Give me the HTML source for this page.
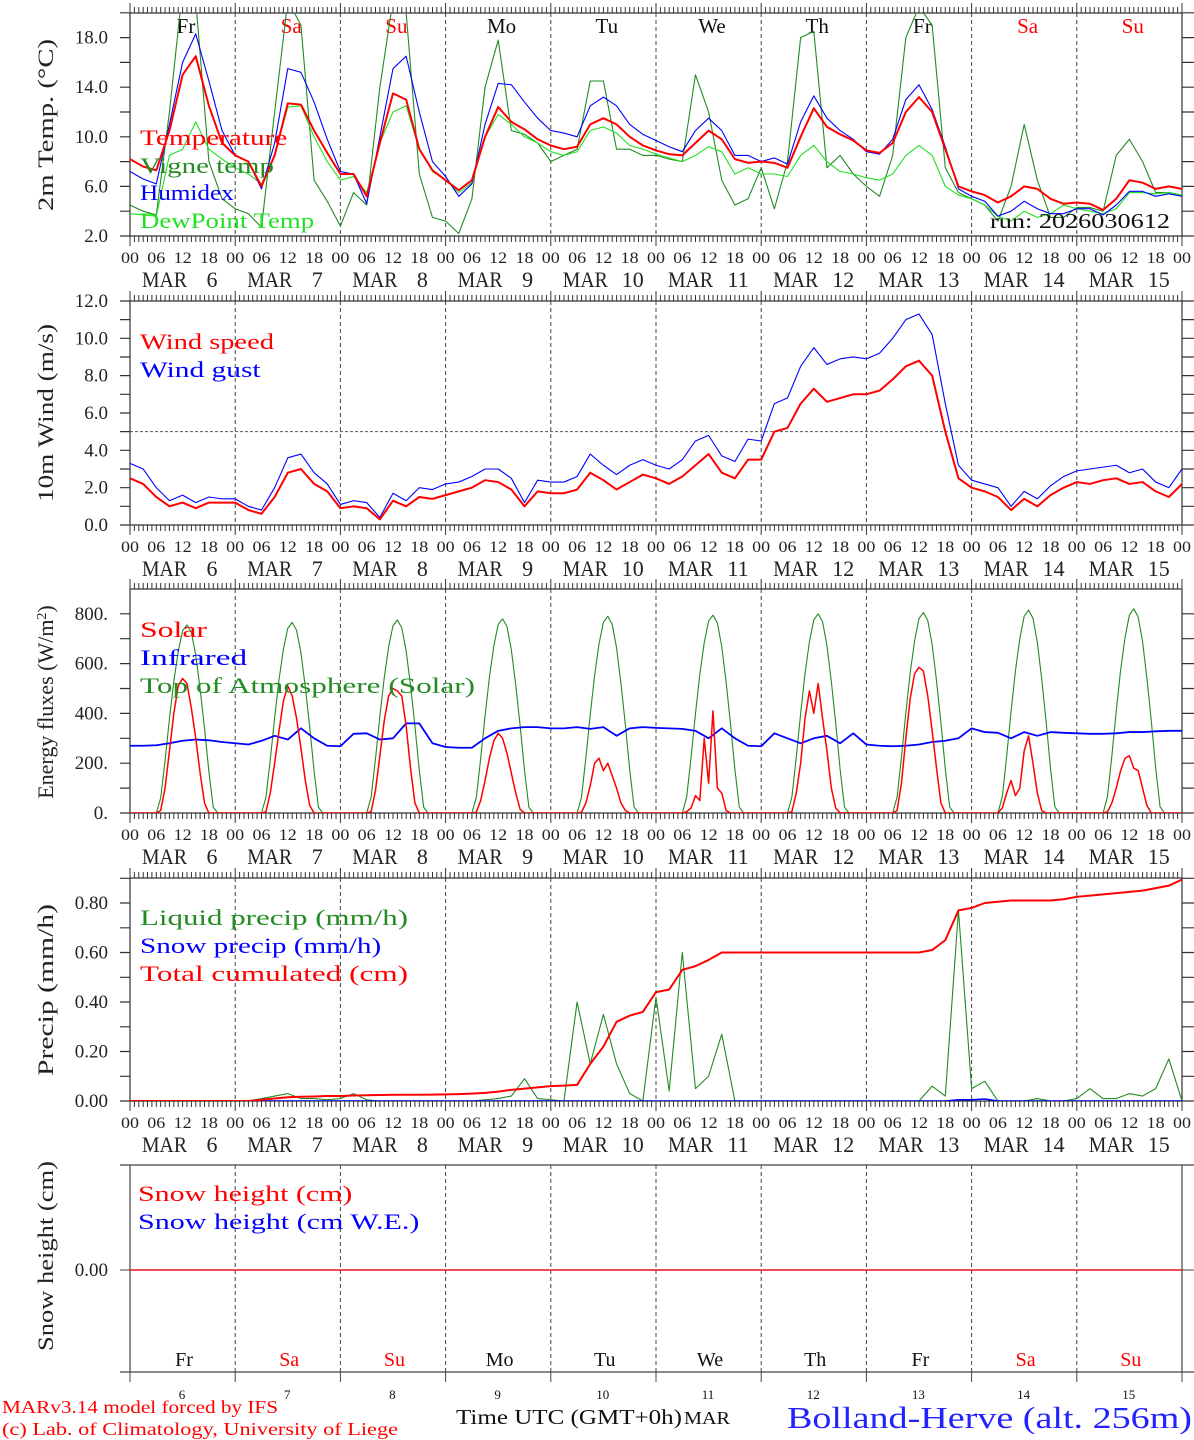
<!DOCTYPE html>
<html><head><meta charset="utf-8"><title>MAR forecast Bolland-Herve</title>
<style>
html,body{margin:0;padding:0;background:#fff;}
svg{display:block;font-family:"Liberation Serif",serif;}
</style></head>
<body>
<svg id="chart" width="1194" height="1440" viewBox="0 0 1194 1440" xmlns="http://www.w3.org/2000/svg">
<defs>
<clipPath id="c1"><rect x="130" y="13" width="1052" height="223"/></clipPath>
<clipPath id="c2"><rect x="130" y="301" width="1052" height="224"/></clipPath>
<clipPath id="c3"><rect x="130" y="589" width="1052" height="224"/></clipPath>
<clipPath id="c4"><rect x="130" y="878" width="1052" height="223"/></clipPath>
</defs>
<g id="root"></g>
</svg>
<script>
// ---------- DATA (3-hourly, Mar 6 00UTC .. Mar 16 00UTC, 81 points) ----------
const days = ["6","7","8","9","10","11","12","13","14","15"];
const dayNames = ["Fr","Sa","Su","Mo","Tu","We","Th","Fr","Sa","Su"];
const hourLabels = ["00","06","12","18"];
const tempTicks = ["2.0","6.0","10.0","14.0","18.0"];
const windTicks = ["0.0","2.0","4.0","6.0","8.0","10.0","12.0"];
const fluxTicks = ["0.","200.","400.","600.","800."];
const precTicks = ["0.00","0.20","0.40","0.60","0.80"];

const temperature = [8.2,7.6,7.3,10.5,15.0,16.5,12.5,9.5, 8.5,8.0,6.0,8.5,12.7,12.6,10.5,8.7, 7.0,7.0,5.2,9.5,13.5,13.0,9.0,7.3, 6.5,5.7,6.5,10.0,12.4,11.2,10.6,9.8, 9.3,9.0,9.2,11.0,11.5,11.0,10.0,9.3, 8.9,8.6,8.5,9.5,10.5,9.8,8.2,7.9, 8.0,7.9,7.5,10.0,12.3,10.8,10.2,9.7, 8.9,8.7,9.5,12.0,13.2,12.0,9.0,6.0, 5.6,5.3,4.7,5.2,6.0,5.8,5.0,4.6, 4.7,4.6,4.1,5.0,6.5,6.3,5.8,6.0,5.8];
const vigneTemp = [4.5,4.0,3.7,12,22,21,8,5, 4.2,3.8,2.7,12,21,19,6.5,4.8, 2.8,5.5,4.5,14,21,20,7,3.5, 3.2,2.2,5,14,17.8,10.5,10.2,9.5, 8.0,8.5,9,14.5,14.5,9,9.0,8.5, 8.5,8.2,8.0,15.0,12,6.5,4.5,5.0, 7.5,4.2,8.0,18,18.5,7.5,8.5,7.0, 6.0,5.2,8.5,18,20.5,19,7.5,5.5, 5.0,4.5,3.2,6.0,11,6.5,3.5,3.5, 4.3,4.3,4.0,8.5,9.8,8.0,5.5,5.5,5.3];
const humidex = [7.2,6.6,6.2,11,16,18.3,14.5,10.5, 8.5,8.0,5.8,9.5,15.5,15.2,12.8,9.8, 7.2,7.0,4.6,10,15.5,16.5,12,8, 6.8,5.2,6.2,11,14.3,14.2,12.8,11.5, 10.5,10.3,10.0,12.5,13.2,12.5,11,10.2, 9.7,9.2,8.8,10.5,11.5,10.5,8.5,8.5, 8.0,8.3,7.8,11.2,13.3,11.5,10.5,9.8, 8.8,8.6,9.8,13,14.2,12.2,9.2,5.8, 5.2,4.8,3.6,4.0,4.8,4.2,3.8,3.8, 4.2,4.2,3.7,4.5,5.6,5.6,5.2,5.4,5.2];
const dewPoint = [3.8,3.7,3.6,8.5,9.0,11.2,9,8.2, 7.5,7.0,6.2,8.5,12.4,12.5,10,8.0, 6.5,6.8,5.5,9.5,12,12.5,9,7.2, 6.5,5.5,6.3,10,11.8,11,10,9.5, 8.8,8.5,8.8,10.5,10.8,10.3,9.3,9.0, 8.6,8.3,8.0,8.5,9.2,8.8,7.0,7.5, 7.0,7.0,6.8,8.5,9.3,8.0,7.2,7.0, 6.7,6.5,7.0,8.5,9.3,8.5,6.0,5.3, 5.0,4.5,3.6,3.2,4.0,3.5,3.8,4.5, 4.2,4.0,3.8,4.2,5.5,5.5,5.4,5.5,5.3];

const windSpeed = [2.5,2.2,1.5,1.0,1.2,0.9,1.2,1.2, 1.2,0.8,0.6,1.5,2.8,3.0,2.2,1.8, 0.9,1.0,0.9,0.3,1.3,1.0,1.5,1.4, 1.6,1.8,2.0,2.4,2.3,1.9,1.0,1.8, 1.7,1.7,1.9,2.8,2.4,1.9,2.3,2.7, 2.5,2.2,2.6,3.2,3.8,2.8,2.5,3.5, 3.5,5.0,5.2,6.5,7.3,6.6,6.8,7.0, 7.0,7.2,7.8,8.5,8.8,8.0,5.0,2.5, 2.0,1.8,1.5,0.8,1.4,1.0,1.6,2.0, 2.3,2.2,2.4,2.5,2.2,2.3,1.8,1.5,2.2];
const windGust = [3.3,3.0,2.0,1.3,1.6,1.2,1.5,1.4, 1.4,1.0,0.8,2.0,3.6,3.8,2.8,2.2, 1.1,1.3,1.2,0.4,1.7,1.3,2.0,1.9, 2.2,2.3,2.6,3.0,3.0,2.5,1.2,2.4, 2.3,2.3,2.6,3.8,3.2,2.7,3.2,3.5, 3.2,3.0,3.5,4.5,4.8,3.7,3.4,4.6, 4.5,6.5,6.8,8.5,9.5,8.6,8.9,9.0, 8.9,9.2,10.0,11.0,11.3,10.2,6.5,3.2, 2.4,2.2,2.0,1.0,1.8,1.4,2.1,2.6, 2.9,3.0,3.1,3.2,2.8,3.0,2.3,2.0,3.0];

// hourly daylight values (06..19 UTC) per day
const toaDay6  = [0,60,211,378,529,649,732,755,725,634,498,340,166,23];
const toaDay7  = [0,61,214,383,536,658,742,765,734,643,505,344,168,23];
const toaDay8  = [0,62,217,388,543,667,752,775,744,651,512,349,171,23];
const toaDay9  = [0,62,218,390,546,671,757,780,749,655,515,351,172,23];
const toaDay10 = [0,63,221,395,553,679,766,790,758,664,521,356,174,24];
const toaDay11 = [0,64,223,398,557,684,771,795,763,668,525,358,175,24];
const toaDay12 = [0,64,224,400,560,688,776,800,768,672,528,360,176,24];
const toaDay13 = [0,64,225,403,564,692,781,805,773,676,531,362,177,24];
const toaDay14 = [0,65,228,408,571,701,791,815,782,685,538,367,179,24];
const toaDay15 = [0,66,230,410,574,705,795,820,787,689,541,369,180,25];
const solarDay6  = [0,10,100,250,400,510,540,520,420,300,160,40,0,0];
const solarDay7  = [0,5,80,200,330,450,510,470,380,260,130,30,0,0];
const solarDay8  = [0,5,90,230,370,470,500,490,470,350,180,40,0,0];
const solarDay9  = [0,3,50,130,220,290,320,300,240,160,80,15,0,0];
const solarDay10 = [0,3,40,110,200,220,170,200,150,100,40,10,0,0];
const solarDay11 = [0,5,20,70,50,300,120,410,100,80,10,0,0,0];
const solarDay12 = [0,5,80,200,380,490,400,520,380,250,100,20,0,0];
const solarDay13 = [0,10,120,300,460,560,585,570,470,330,180,40,0,0];
const solarDay14 = [0,20,80,130,70,100,250,310,200,80,10,0,0,0];
const solarDay15 = [0,5,40,100,170,220,230,180,170,100,30,0,0,0];
const infrared = [270,270,272,280,290,295,292,285, 280,275,290,310,295,340,300,270, 268,318,320,295,300,360,360,280, 265,262,262,300,330,340,345,345, 340,340,345,338,345,310,340,345, 342,340,338,330,300,340,300,270, 268,320,300,280,300,310,280,320, 275,270,268,270,275,285,290,300, 340,325,322,300,325,310,325,322, 320,318,318,320,325,325,328,330,330];

const liquidPrecip = [0,0,0,0,0,0,0,0, 0,0,0.01,0.02,0.03,0.01,0.01,0.005, 0.01,0.03,0.005,0,0,0,0,0, 0,0,0,0.005,0.01,0.02,0.09,0.01, 0.005,0,0.40,0.15,0.35,0.15,0.03,0, 0.42,0.04,0.60,0.05,0.10,0.27,0,0, 0,0,0,0,0,0,0,0, 0,0,0,0,0,0.06,0.02,0.77, 0.05,0.08,0,0,0,0.01,0,0, 0.01,0.05,0.01,0.01,0.03,0.02,0.05,0.17,0];
const snowPrecip = [0,0,0,0,0,0,0,0, 0,0,0,0,0,0,0,0, 0,0,0,0,0,0,0,0, 0,0,0,0,0,0,0,0, 0,0,0,0,0,0,0,0, 0,0,0,0,0,0,0,0, 0,0,0,0,0,0,0,0, 0,0,0,0,0,0,0,0.005, 0.005,0.008,0,0,0,0,0,0, 0,0,0,0,0,0,0,0,0];
const totalCumulated = [0,0,0,0,0,0,0,0, 0,0,0.005,0.01,0.015,0.017,0.018,0.02, 0.02,0.022,0.023,0.024,0.025,0.025,0.025,0.026, 0.027,0.028,0.03,0.033,0.038,0.045,0.05,0.055, 0.06,0.062,0.065,0.15,0.22,0.32,0.345,0.36, 0.44,0.45,0.53,0.545,0.57,0.60,0.60,0.60, 0.60,0.60,0.60,0.60,0.60,0.60,0.60,0.60, 0.60,0.60,0.60,0.60,0.60,0.61,0.65,0.77, 0.78,0.80,0.805,0.81,0.81,0.81,0.81,0.815, 0.825,0.83,0.835,0.84,0.845,0.85,0.86,0.87,0.895];
const snowHeight = [0,0,0,0,0,0,0,0,0,0,0];
const snowHeightWE = [0,0,0,0,0,0,0,0,0,0,0];

// ---------- RENDERING ----------
const NS = "http://www.w3.org/2000/svg";
const root = document.getElementById("root");
const X0 = 130, X1 = 1182, DAYW = (X1 - X0) / 10, HW = DAYW / 24;
const x3h = i => X0 + i * 3 * HW;
const xHour = h => X0 + h * HW;

function mk(tag, parent, attrs) {
  const el = document.createElementNS(NS, tag);
  for (const k in attrs) el.setAttribute(k, attrs[k]);
  parent.appendChild(el);
  return el;
}
function txt(parent, x, y, s, size, fill, anchor, name, len) {
  const el = mk("text", parent, {x: x, y: y, "font-size": size, fill: fill, "text-anchor": anchor});
  if (len) { el.setAttribute("textLength", len); el.setAttribute("lengthAdjust", "spacingAndGlyphs"); }
  el.textContent = s;
  
  
  return el;
}
function series(parent, vals, xf, yf, color, w, name, clip) {
  let d = "";
  vals.forEach((v, i) => { d += (i ? "L" : "M") + xf(i).toFixed(2) + "," + yf(v).toFixed(2); });
  const el = mk("path", parent, {d: d, fill: "none", stroke: color, "stroke-width": w, "stroke-linejoin": "round", "clip-path": "url(#" + clip + ")"});
  
  
  return el;
}
function frame(g, T, B, withTicks) {
  const a = mk("path", g, {d: `M${X0},${T}H${X1}M${X0},${B}H${X1}M${X0},${T}V${B}M${X1},${T}V${B}`, stroke: "#333", "stroke-width": 1.2, fill: "none"});
  
  
  let d = "";
  if (withTicks) {
    for (let h = 0; h <= 240; h++) {
      const x = (X0 + h * HW).toFixed(1);
      const L = (h % 24 === 0) ? 10 : 6;
      d += `M${x},${T}V${T - L}M${x},${B}V${B + L}`;
    }
  }
  const t = mk("path", g, {d: d, stroke: "#333", "stroke-width": 1, fill: "none"});
  
  
  let dd = "";
  for (let k = 1; k < 10; k++) { const x = (X0 + k * DAYW).toFixed(1); dd += `M${x},${T}V${B}`; }
  const dl = mk("path", g, {d: dd, stroke: "#444", "stroke-width": 1, "stroke-dasharray": "4,3", fill: "none"});
  
  
}
function yAxis(g, ticksVals, yf, minorVals, labels) {
  let d = "";
  minorVals.forEach(v => { const y = yf(v).toFixed(1); d += `M120,${y}H${X0}M${X1},${y}H1194`; });
  const t = mk("path", g, {d: d, stroke: "#333", "stroke-width": 1.2, fill: "none"});
  
  
  ticksVals.forEach((v, i) => txt(g, 108, yf(v) + 6, labels[i], 19, "#222", "end", "y-tick-label", null));
}
function hourAxis(g, B) {
  for (let k = 0; k < 10; k++) {
    hourLabels.forEach((h, j) => txt(g, X0 + k * DAYW + j * 6 * HW, B + 27, h, 16, "#222", "middle", "x-hour-label", 18));
    txt(g, X0 + k * DAYW + 12, B + 51, "MAR", 22, "#222", "start", "x-month-label", 45);
    txt(g, X0 + k * DAYW + 82, B + 51, days[k], 22, "#222", "middle", "x-day-label", null);
  }
  txt(g, X1, B + 27, "00", 16, "#222", "middle", "x-hour-label", 18);
}
function yTitle(g, cx, cy, s, len) {
  const el = txt(g, 0, 0, s, 22, "#222", "middle", "y-axis-title", len);
  el.setAttribute("transform", `translate(${cx},${cy}) rotate(-90)`);
}
function legend(g, x, y, s, color) {
  txt(g, x, y, s, 22, color, "start", "legend-entry", s.length * 13.4);
}

// ---- Panel 1: temperature ----
const g1 = mk("g", root, {});  
const y1 = v => 236 - (v - 2) * 12.4;
frame(g1, 13, 236, true);
yAxis(g1, [2, 6, 10, 14, 18], y1, [2,4,6,8,10,12,14,16,18,20], tempTicks);
hourAxis(g1, 236);
yTitle(g1, 53, 125, "2m Temp. (\u00B0C)", 172);
dayNames.forEach((n, k) => txt(g1, X0 + k * DAYW + 56, 33, n, 21, (n === "Sa" || n === "Su") ? "#f00" : "#111", "middle", "weekday-label", null));
series(g1, vigneTemp, x3h, y1, "#228B22", 1.1, "vigne-temp-line", "c1");
series(g1, dewPoint, x3h, y1, "#22e022", 1.1, "dewpoint-line", "c1");
series(g1, humidex, x3h, y1, "#0000ff", 1.1, "humidex-line", "c1");
series(g1, temperature, x3h, y1, "#ff0000", 2, "temperature-line", "c1");
legend(g1, 140, 145, "Temperature", "#ff0000");
legend(g1, 140, 173, "Vigne temp", "#228B22");
legend(g1, 140, 200, "Humidex", "#0000ff");
legend(g1, 140, 228, "DewPoint Temp", "#22e022");
txt(g1, 1170, 228, "run: 2026030612", 21, "#111", "end", "run-label", 180);

// ---- Panel 2: wind ----
const g2 = mk("g", root, {});  
const y2 = v => 525 - v * 18.67;
frame(g2, 301, 525, true);
yAxis(g2, [0, 2, 4, 6, 8, 10, 12], y2, [0,1,2,3,4,5,6,7,8,9,10,11,12], windTicks);
hourAxis(g2, 525);
yTitle(g2, 53, 413, "10m Wind (m/s)", 178);
const ref = mk("line", g2, {x1: X0, x2: X1, y1: y2(5), y2: y2(5), stroke: "#555", "stroke-width": 1, "stroke-dasharray": "3,2"});


series(g2, windGust, x3h, y2, "#0000ff", 1.1, "wind-gust-line", "c2");
series(g2, windSpeed, x3h, y2, "#ff0000", 2, "wind-speed-line", "c2");
legend(g2, 140, 349, "Wind speed", "#ff0000");
legend(g2, 140, 377, "Wind gust", "#0000ff");

// ---- Panel 3: energy ----
const g3 = mk("g", root, {});  
const y3 = v => 813 - v * 0.249;
frame(g3, 589, 813, true);
yAxis(g3, [0, 200, 400, 600, 800], y3, [0,100,200,300,400,500,600,700,800], fluxTicks);
hourAxis(g3, 813);
const tt = txt(g3, 0, 0, "", 22, "#222", "middle", "y-axis-title", null);
tt.setAttribute("transform", "translate(53,702) rotate(-90)");
tt.textContent = "Energy fluxes (W/m";
const sup = mk("tspan", tt, {dy: -7, "font-size": 14}); sup.textContent = "2";
const sup2 = mk("tspan", tt, {dy: 7}); sup2.textContent = ")";
const toaDays = [toaDay6,toaDay7,toaDay8,toaDay9,toaDay10,toaDay11,toaDay12,toaDay13,toaDay14,toaDay15];
const solarDays = [solarDay6,solarDay7,solarDay8,solarDay9,solarDay10,solarDay11,solarDay12,solarDay13,solarDay14,solarDay15];
function hourly(dayArrs) {
  const out = new Array(241).fill(0);
  dayArrs.forEach((arr, k) => arr.forEach((v, j) => { out[k * 24 + 6 + j] = v; }));
  return out;
}
series(g3, hourly(toaDays), xHour, y3, "#228B22", 1.1, "toa-solar-line", "c3");
series(g3, infrared, x3h, y3, "#0000ff", 1.8, "infrared-line", "c3");
series(g3, hourly(solarDays), xHour, y3, "#ff0000", 1.5, "solar-line", "c3");
legend(g3, 140, 637, "Solar", "#ff0000");
legend(g3, 140, 665, "Infrared", "#0000ff");
legend(g3, 140, 693, "Top of Atmosphere (Solar)", "#228B22");

// ---- Panel 4: precipitation ----
const g4 = mk("g", root, {});  
const y4 = v => 1101 - v * 247.5;
frame(g4, 878, 1101, true);
yAxis(g4, [0, 0.2, 0.4, 0.6, 0.8], y4, [0,0.1,0.2,0.3,0.4,0.5,0.6,0.7,0.8,0.9], precTicks);
hourAxis(g4, 1101);
yTitle(g4, 53, 990, "Precip (mm/h)", 172);
series(g4, liquidPrecip, x3h, y4, "#228B22", 1.1, "liquid-precip-line", "c4");
series(g4, snowPrecip, x3h, y4, "#0000ff", 1.5, "snow-precip-line", "c4");
series(g4, totalCumulated, x3h, y4, "#ff0000", 2, "total-cumulated-line", "c4");
legend(g4, 140, 925, "Liquid precip (mm/h)", "#228B22");
legend(g4, 140, 953, "Snow precip (mm/h)", "#0000ff");
legend(g4, 140, 981, "Total cumulated (cm)", "#ff0000");

// ---- Panel 5: snow height ----
const g5 = mk("g", root, {});  
const y5 = v => 1270 - v * 100;
const xDay = i => X0 + i * DAYW;
const f5 = mk("path", g5, {d: `M120,1165H1194M120,1372H1194M${X0},1165V1372M${X1},1165V1372`, stroke: "#444", "stroke-width": 1.2, fill: "none"});


let d5 = "", t5 = "";
for (let k = 1; k < 10; k++) { const x = (X0 + k * DAYW).toFixed(1); d5 += `M${x},1165V1372`; }
for (let k = 0; k <= 10; k++) { const x = (X0 + k * DAYW).toFixed(1); t5 += `M${x},1372V1382`; }
const dl5 = mk("path", g5, {d: d5, stroke: "#444", "stroke-width": 1, "stroke-dasharray": "4,3", fill: "none"});


const tk5 = mk("path", g5, {d: t5 + "M120,1270H130M1182,1270H1194", stroke: "#444", "stroke-width": 1, fill: "none"});


txt(g5, 108, 1276, "0.00", 19, "#222", "end", "y-tick-label", null);
yTitle(g5, 53, 1256, "Snow height (cm)", 190);
series(g5, snowHeightWE, xDay, y5, "#0000ff", 1.2, "snow-height-we-line", "c5none");
series(g5, snowHeight, xDay, y5, "#ff2020", 1.6, "snow-height-line", "c5none");
legend(g5, 138, 1201, "Snow height (cm)", "#ff0000");
legend(g5, 138, 1229, "Snow height (cm W.E.)", "#0000ff");
dayNames.forEach((n, k) => {
  txt(g5, X0 + k * DAYW + 54, 1366, n, 20, (n === "Sa" || n === "Su") ? "#f00" : "#111", "middle", "weekday-label", null);
  txt(g5, X0 + k * DAYW + 52, 1399, days[k], 13, "#111", "middle", "date-label", null);
});

// ---- Footer ----
txt(root, 2, 1413, "MARv3.14 model forced by IFS", 18, "#ff0000", "start", "model-credit", 276);
txt(root, 2, 1435, "(c) Lab. of Climatology, University of Liege", 18, "#ff0000", "start", "lab-credit", 396);
txt(root, 456, 1424, "Time UTC (GMT+0h)", 21, "#111", "start", "x-axis-title", 226);
txt(root, 684, 1424, "MAR", 18, "#111", "start", "x-axis-month", 46);
txt(root, 787, 1428, "Bolland-Herve (alt. 256m)", 31, "#2222ff", "start", "station-title", 405);
</script>
</body></html>
